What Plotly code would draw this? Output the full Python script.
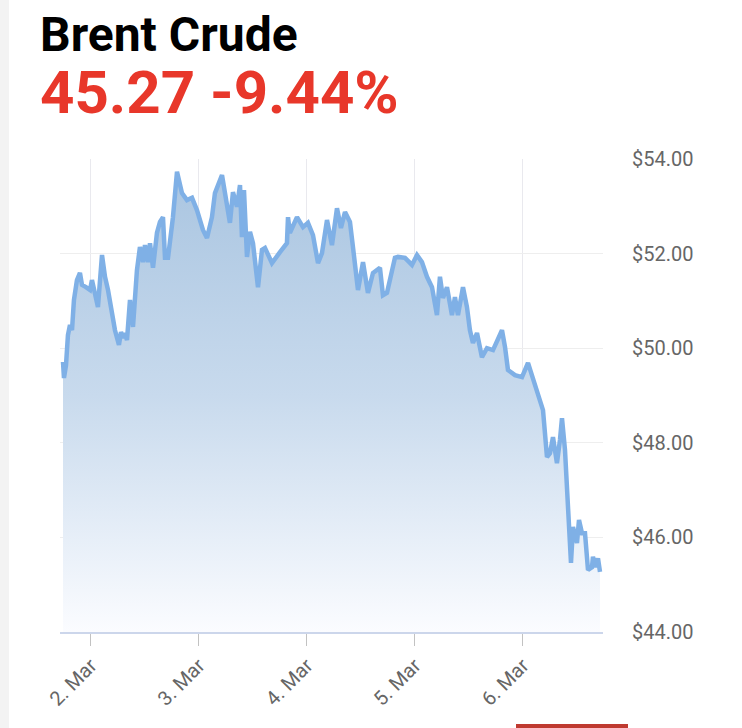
import plotly.graph_objects as go

# ---- data ----
times = [
    "2020-03-01 17:47", "2020-03-01 18:00", "2020-03-01 18:27", "2020-03-01 18:53", "2020-03-01 19:20",
    "2020-03-01 19:47", "2020-03-01 20:13", "2020-03-01 20:53", "2020-03-01 21:33", "2020-03-01 22:00",
    "2020-03-01 22:53", "2020-03-01 23:47", "2020-03-02 00:13", "2020-03-02 00:53", "2020-03-02 01:33",
    "2020-03-02 02:27", "2020-03-02 03:07", "2020-03-02 03:47", "2020-03-02 04:40", "2020-03-02 05:20",
    "2020-03-02 06:13", "2020-03-02 06:40", "2020-03-02 07:07", "2020-03-02 07:33", "2020-03-02 08:00",
    "2020-03-02 08:40", "2020-03-02 09:20", "2020-03-02 10:13", "2020-03-02 10:53", "2020-03-02 11:33",
    "2020-03-02 12:00", "2020-03-02 12:40", "2020-03-02 13:07", "2020-03-02 13:47", "2020-03-02 14:40",
    "2020-03-02 15:20", "2020-03-02 16:00", "2020-03-02 16:27", "2020-03-02 17:07", "2020-03-02 18:13",
    "2020-03-02 19:07", "2020-03-02 19:47", "2020-03-02 20:13", "2020-03-02 21:20", "2020-03-02 22:27",
    "2020-03-02 23:33", "2020-03-03 00:53", "2020-03-03 01:47", "2020-03-03 02:53", "2020-03-03 03:33",
    "2020-03-03 04:13", "2020-03-03 05:07", "2020-03-03 05:47", "2020-03-03 06:53", "2020-03-03 07:33",
    "2020-03-03 08:27", "2020-03-03 09:07", "2020-03-03 09:33", "2020-03-03 10:00", "2020-03-03 10:40",
    "2020-03-03 11:20", "2020-03-03 12:00", "2020-03-03 13:07", "2020-03-03 14:00", "2020-03-03 14:40",
    "2020-03-03 16:13", "2020-03-03 18:00", "2020-03-03 19:33", "2020-03-03 19:47", "2020-03-03 20:13",
    "2020-03-03 21:47", "2020-03-03 23:07", "2020-03-04 00:13", "2020-03-04 01:20", "2020-03-04 02:27",
    "2020-03-04 03:20", "2020-03-04 04:27", "2020-03-04 05:33", "2020-03-04 06:40", "2020-03-04 07:33",
    "2020-03-04 08:27", "2020-03-04 09:33", "2020-03-04 10:13", "2020-03-04 11:20", "2020-03-04 12:27",
    "2020-03-04 13:33", "2020-03-04 14:40", "2020-03-04 16:13", "2020-03-04 16:53", "2020-03-04 17:47",
    "2020-03-04 19:33", "2020-03-04 20:13", "2020-03-04 21:47", "2020-03-04 23:20", "2020-03-05 00:27",
    "2020-03-05 01:33", "2020-03-05 02:40", "2020-03-05 03:47", "2020-03-05 04:53", "2020-03-05 05:33",
    "2020-03-05 06:13", "2020-03-05 07:07", "2020-03-05 08:13", "2020-03-05 08:53", "2020-03-05 09:33",
    "2020-03-05 10:40", "2020-03-05 11:33", "2020-03-05 12:13", "2020-03-05 12:53", "2020-03-05 13:47",
    "2020-03-05 14:53", "2020-03-05 16:00", "2020-03-05 17:20", "2020-03-05 19:20", "2020-03-05 20:00",
    "2020-03-05 20:40", "2020-03-05 22:13", "2020-03-05 23:47", "2020-03-06 01:07", "2020-03-06 02:13",
    "2020-03-06 03:20", "2020-03-06 04:27", "2020-03-06 05:20", "2020-03-06 06:00", "2020-03-06 06:40",
    "2020-03-06 07:33", "2020-03-06 08:13", "2020-03-06 08:40", "2020-03-06 09:20", "2020-03-06 09:47",
    "2020-03-06 10:13", "2020-03-06 10:40", "2020-03-06 11:07", "2020-03-06 12:00", "2020-03-06 12:27",
    "2020-03-06 13:07", "2020-03-06 13:47", "2020-03-06 14:27", "2020-03-06 15:20", "2020-03-06 15:33",
    "2020-03-06 16:13", "2020-03-06 16:40", "2020-03-06 17:07",
]
prices = [
    49.71, 49.37, 49.64, 50.28, 50.49, 50.38, 51.02, 51.44, 51.59, 51.34,
    51.29, 51.23, 51.44, 51.19, 50.87, 51.97, 51.51, 51.23, 50.66, 50.38,
    50.07, 50.34, 50.22, 50.32, 50.17, 51.02, 50.45, 51.65, 52.14, 51.82,
    52.18, 51.82, 52.22, 51.70, 52.44, 52.67, 52.77, 51.91, 51.91, 52.77,
    53.73, 53.45, 53.28, 53.13, 53.18, 52.92, 52.50, 52.33, 52.77, 53.28,
    53.45, 53.66, 53.28, 52.65, 53.30, 52.99, 53.45, 52.35, 53.34, 51.93,
    52.46, 52.22, 51.29, 52.08, 52.12, 51.80, 52.03, 52.22, 52.77, 52.44,
    52.77, 52.56, 52.65, 52.39, 51.80, 52.01, 52.71, 52.18, 52.96, 52.54,
    52.88, 52.67, 52.14, 51.23, 51.82, 51.17, 51.59, 51.70, 51.12, 51.17,
    51.91, 51.93, 51.91, 51.76, 51.97, 51.82, 51.51, 51.29, 50.70, 51.51,
    51.06, 51.29, 50.70, 51.08, 50.70, 51.29, 50.87, 50.38, 50.11, 50.32,
    49.81, 50.00, 49.96, 50.38, 50.03, 49.54, 49.43, 49.39, 49.69, 49.37,
    49.05, 48.69, 47.70, 47.78, 48.12, 47.57, 48.06, 48.52, 47.85, 47.00,
    46.52, 45.46, 46.22, 45.88, 46.37, 46.09, 46.09, 45.31, 45.37, 45.59,
    45.37, 45.56, 45.27,
]
tick_dates = ["2020-03-02", "2020-03-03", "2020-03-04", "2020-03-05", "2020-03-06"]
tick_labels = ["2. Mar", "3. Mar", "4. Mar", "5. Mar", "6. Mar"]
y_ticks = [44, 46, 48, 50, 52, 54]
y_labels = ["$44.00", "$46.00", "$48.00", "$50.00", "$52.00", "$54.00"]
title_text = "Brent Crude"
price_text = "45.27 -9.44%"

W, H = 742, 728
L, R, T, B = 60, 139, 159, 96
pw, ph = W - L - R, H - T - B


def px_x(x):
    return (x - L) / pw


def px_y(y):
    return (H - B - y) / ph


fig = go.Figure()
fig.add_trace(go.Scatter(
    x=times, y=prices, mode="lines",
    line=dict(color="#7fb0e6", width=4.5),
    fill="tozeroy",
    fillgradient=dict(type="vertical", start=44, stop=54,
                      colorscale=[[0, "rgb(251,252,255)"], [0.5, "rgb(200,218,237)"], [1, "rgb(168,196,224)"]]),
    hoverinfo="skip",
))

fig.update_layout(
    width=W, height=H,
    margin=dict(l=L, r=R, t=T, b=B, autoexpand=False),
    paper_bgcolor="white", plot_bgcolor="white",
    showlegend=False,
    font=dict(family="Roboto", color="#666666"),
    xaxis=dict(
        type="date",
        range=["2020-03-01 17:07", "2020-03-06 17:47"],
        tickvals=tick_dates, ticktext=tick_labels,
        tickangle=-45,
        tickfont=dict(size=20, color="#666666"),
        showgrid=True, gridcolor="#e9e9ee", gridwidth=1,
        showline=True, linecolor="#ccd6eb", linewidth=2,
        ticks="outside", ticklen=12, tickcolor="#c2c2c2", tickwidth=1,
        zeroline=False, fixedrange=True, automargin=False,
    ),
    yaxis=dict(
        side="right",
        range=[44, 54],
        tickvals=y_ticks, ticktext=y_labels,
        tickfont=dict(size=20, color="#666666"),
        showgrid=True, gridcolor="#eeeeee", gridwidth=1,
        showline=False, zeroline=False, fixedrange=True,
        ticks="", ticklabelstandoff=28, automargin=False,
    ),
)

# title and price as one two-line text block
fig.add_annotation(
    text=f"{title_text}<br><span style='font-size:60px;color:#e8372a'>{price_text}</span>",
    xref="paper", yref="paper",
    x=px_x(38), y=px_y(4), xanchor="left", yanchor="top", align="left",
    showarrow=False,
    font=dict(family="Roboto", size=48, color="#000000", weight="bold"),
)

# left page edge strip and bottom-right red tab
fig.add_shape(type="rect", xref="paper", yref="paper",
              x0=px_x(0), x1=px_x(9), y0=px_y(H), y1=px_y(0),
              fillcolor="#f3f3f3", line=dict(width=0), layer="above")
fig.add_shape(type="rect", xref="paper", yref="paper",
              x0=px_x(516), x1=px_x(628), y0=px_y(H), y1=px_y(724),
              fillcolor="#bf3a30", line=dict(width=0), layer="above")

fig.write_html("out.html", config={"displayModeBar": False, "staticPlot": True},
               post_script="document.body.style.margin='0';document.body.style.overflow='hidden';")
